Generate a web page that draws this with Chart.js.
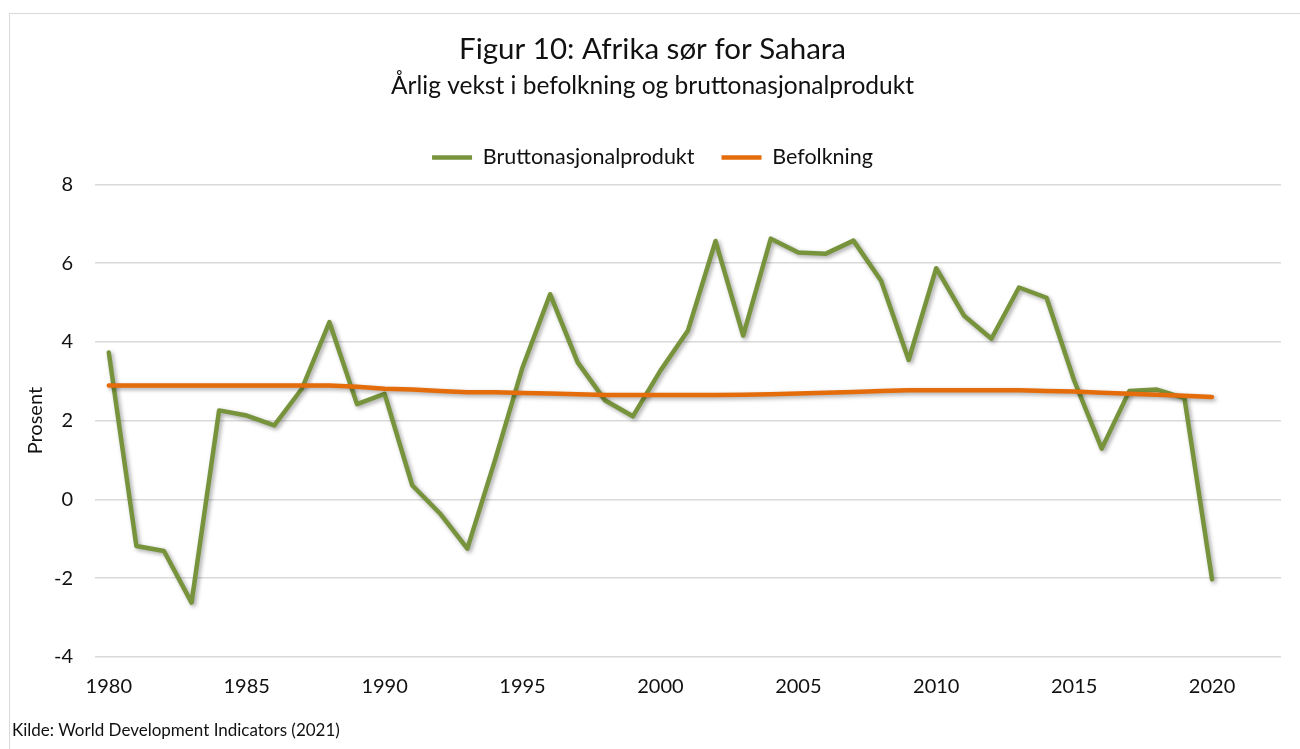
<!DOCTYPE html>
<html>
<head>
<meta charset="utf-8">
<script src="https://cdn.jsdelivr.net/npm/chart.js@4/dist/chart.umd.min.js"></script>
<style>
  html, body { margin: 0; padding: 0; background: #fff; }
  #wrap { position: relative; width: 1300px; height: 749px; overflow: hidden; }
  #frame { position: absolute; left: 9px; top: 13px; width: 1400px; height: 800px; border: 1px solid #d9d9d9; }
  #chart { position: absolute; left: 0; top: 0; }
  #source { position: absolute; left: 12px; top: 719px; font-family: Lato, sans-serif; font-size: 17px; color: #111; }
</style>
</head>
<body>
<div id="wrap">
  <div id="frame"></div>
  <canvas id="chart" width="1300" height="749"></canvas>
  <div id="source">Kilde: World Development Indicators (2021)</div>
</div>
<script>
// years on x axis
var years = [1980, 1981, 1982, 1983, 1984, 1985, 1986, 1987, 1988, 1989,
             1990, 1991, 1992, 1993, 1994, 1995, 1996, 1997, 1998, 1999,
             2000, 2001, 2002, 2003, 2004, 2005, 2006, 2007, 2008, 2009,
             2010, 2011, 2012, 2013, 2014, 2015, 2016, 2017, 2018, 2019, 2020];

// annual growth in GDP, percent
var bnp = [3.73, -1.18, -1.31, -2.62, 2.26, 2.13, 1.88, 2.81, 4.50, 2.42,
           2.68, 0.36, -0.35, -1.25, 0.99, 3.35, 5.21, 3.48, 2.51, 2.11,
           3.27, 4.29, 6.56, 4.16, 6.62, 6.27, 6.24, 6.57, 5.55, 3.54,
           5.87, 4.67, 4.08, 5.38, 5.12, 3.02, 1.29, 2.75, 2.79, 2.57, -2.03];

// annual growth in population, percent
var befolkning = [2.89, 2.89, 2.89, 2.89, 2.89, 2.89, 2.89, 2.89, 2.89, 2.86,
                  2.81, 2.79, 2.75, 2.72, 2.72, 2.70, 2.69, 2.67, 2.65, 2.65,
                  2.65, 2.65, 2.65, 2.66, 2.67, 2.69, 2.71, 2.73, 2.75, 2.77,
                  2.77, 2.77, 2.77, 2.77, 2.75, 2.74, 2.71, 2.68, 2.66, 2.63, 2.60];

var xTicks = [1980, 1985, 1990, 1995, 2000, 2005, 2010, 2015, 2020];

var seriesNames = ['Bruttonasjonalprodukt', 'Befolkning'];
var green = '#77933C';
var orange = '#E46C0A';

function toPoints(vals){
    var pts = [];
    for (var i = 0; i < years.length; i++){
        pts.push({x: years[i], y: vals[i]});
    }
    return pts;
}

// soft drop shadow under the lines, like the original
var shadowPlugin = {
    id: 'lineShadow',
    beforeDatasetDraw: function(chart){
        var ctx = chart.ctx;
        ctx.save();
        ctx.shadowColor = 'rgba(0,0,0,0.35)';
        ctx.shadowBlur = 4;
        ctx.shadowOffsetX = 2;
        ctx.shadowOffsetY = 2;
    },
    afterDatasetDraw: function(chart){
        chart.ctx.restore();
    }
};

// a bit more room between legend and plot
var legendSpace = {
    id: 'legendSpace',
    beforeInit: function(chart){
        var fit = chart.legend.fit;
        chart.legend.fit = function(){
            fit.bind(chart.legend)();
            this.height += 6;
        };
    }
};

Chart.defaults.font.family = 'Lato, sans-serif';
Chart.defaults.color = '#111';

var ctx = document.getElementById('chart').getContext('2d');
var chart = new Chart(ctx, {
    type: 'line',
    data: {
        datasets: [
        {
            label: seriesNames[0],
            data: toPoints(bnp),
            borderColor: green,
            backgroundColor: green,
            borderWidth: 4.5,
            borderCapStyle: 'round',
            borderJoinStyle: 'round',
            pointRadius: 0,
            tension: 0,
            order: 1
        },
        {
            label: seriesNames[1],
            data: toPoints(befolkning),
            borderColor: orange,
            backgroundColor: orange,
            borderWidth: 4.5,
            borderCapStyle: 'round',
            borderJoinStyle: 'round',
            pointRadius: 0,
            tension: 0,
            order: 0
        }]
    },
    plugins: [shadowPlugin, legendSpace],
    options: {
        responsive: false,
        animation: false,
        layout: { padding: { left: 24, right: 19, top: 0, bottom: 50 } },
        plugins: {
            title: {
                display: true,
                text: 'Figur 10: Afrika sør for Sahara',
                font: { size: 29.5, weight: 'normal' },
                padding: { top: 32, bottom: 4 }
            },
            subtitle: {
                display: true,
                text: 'Årlig vekst i befolkning og bruttonasjonalprodukt',
                font: { size: 24.5, weight: 'normal' },
                padding: { top: 0, bottom: 19 }
            },
            legend: {
                display: true,
                labels: {
                    usePointStyle: true,
                    pointStyle: 'line',
                    pointStyleWidth: 40,
                    padding: 27,
                    font: { size: 21.5 },
                    sort: function(a, b){ return a.datasetIndex - b.datasetIndex; }
                }
            },
            tooltip: { enabled: false }
        },
        scales: {
            x: {
                type: 'linear',
                min: 1979.5,
                max: 2022.5,
                afterBuildTicks: function(axis){
                    axis.ticks = xTicks.map(function(v){ return {value: v}; });
                },
                afterFit: function(axis){
                    axis.height = 42;
                },
                grid: { display: false, drawTicks: false },
                border: { display: false },
                ticks: {
                    font: { size: 20 },
                    padding: 18,
                    maxRotation: 0,
                    callback: function(v){ return String(v); }
                }
            },
            y: {
                min: -4,
                max: 8,
                afterFit: function(axis){
                    axis.width = 71;
                },
                ticks: { stepSize: 2, font: { size: 20 }, padding: 22 },
                grid: { color: '#d9d9d9', lineWidth: 1.5, drawTicks: false },
                border: { display: false },
                title: {
                    display: true,
                    text: 'Prosent',
                    font: { size: 20 },
                    padding: { top: 0, bottom: 7 }
                }
            }
        }
    }
});
</script>
</body>
</html>
